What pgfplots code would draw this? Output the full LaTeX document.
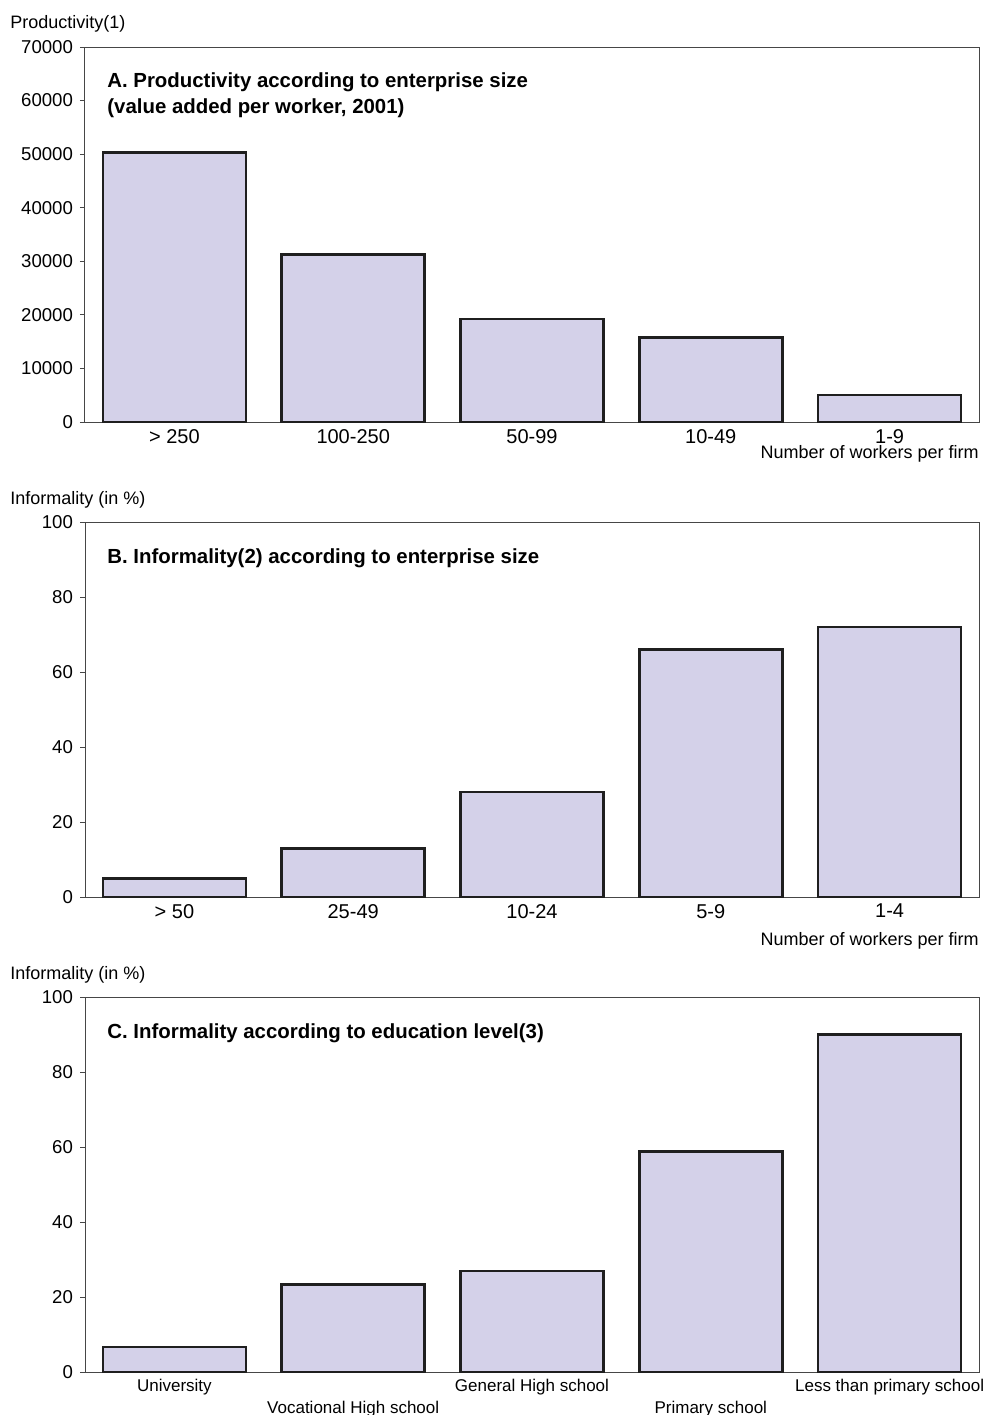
\documentclass[border=0pt]{standalone}
\usepackage{pgfplots}
\pgfplotsset{compat=1.18}
\usepackage{fontspec}
\setmainfont{Liberation Sans}
\definecolor{barfill}{RGB}{212,209,233}
\definecolor{axgray}{RGB}{70,70,70}
\pgfplotsset{
 panel/.style={
  scale only axis, width=447pt, height=187.5pt, anchor=south west,
  xmin=-0.5, xmax=4.5, ymin=0,
  ybar, bar width=0.8,
  axis line style={axgray, line width=0.5pt},
  tick style={axgray, line width=0.5pt},
  xtick pos=bottom, ytick pos=left,
  major tick length=2.5pt,
  xtick align=inside, ytick align=outside,
  yticklabel style={font=\fontsize{9.3}{10}\selectfont, text=black},
  xticklabel style={font=\fontsize{10}{11}\selectfont, text=black},
  scaled ticks=false,
  /pgf/number format/assume math mode=true,
  /pgf/number format/1000 sep={},
  clip=false,
 },
 bars/.style={fill=barfill, draw=black!88, line width=1.25pt}
}
\begin{document}
\begin{tikzpicture}
\path[use as bounding box] (0,0) rectangle (492pt,-707.5pt);
% Panel A
\begin{axis}[panel, at={(42.5pt,-211pt)}, ymax=70000,
  ytick={0,10000,...,70000},
  xtick={0,...,4}, xticklabels={> 250,100-250,50-99,10-49,1-9}]
\addplot[bars] coordinates {(0,50300) (1,31300) (2,19200) (3,15800) (4,5000)};
\end{axis}
% Panel B
\begin{axis}[panel, at={(42.5pt,-448.5pt)}, ymax=100,
  ytick={0,20,...,100},
  xtick={0,...,4}, xticklabels={> 50,25-49,10-24,5-9,1-4}]
\addplot[bars] coordinates {(0,5) (1,13) (2,28) (3,66) (4,72)};
\end{axis}
% Panel C
\begin{axis}[panel, at={(42.5pt,-686pt)}, ymax=100,
  ytick={0,20,...,100},
  xticklabel style={font=\fontsize{8.5}{10}\selectfont},
  xtick={0,2,4}, xticklabels={University,General High school,Less than primary school},
  extra x ticks={1,3}, extra x tick labels={Vocational High school,Primary school},
  extra x tick style={grid=none, xticklabel style={yshift=-11pt}}]
\addplot[bars] coordinates {(0,6.7) (1,23.3) (2,27) (3,58.8) (4,90)};
\end{axis}
\begin{scope}[every node/.style={font=\fontsize{9}{10}\selectfont, inner sep=0pt}]
\node[anchor=base west] at (5pt,-14.25pt) {Productivity(1)};
\node[anchor=base west] at (5pt,-252.25pt) {Informality (in \%)};
\node[anchor=base west] at (5pt,-489.75pt) {Informality (in \%)};
\node[anchor=base east] at (489.5pt,-229.25pt) {Number of workers per firm};
\node[anchor=base east] at (489.5pt,-472.75pt) {Number of workers per firm};
\node[anchor=base west, font=\fontsize{10.2}{11}\selectfont\bfseries] at (53.5pt,-43.5pt) {A. Productivity according to enterprise size};
\node[anchor=base west, font=\fontsize{10.2}{11}\selectfont\bfseries] at (53.5pt,-56.5pt) {(value added per worker, 2001)};
\node[anchor=base west, font=\fontsize{10.2}{11}\selectfont\bfseries] at (53.5pt,-281.5pt) {B. Informality(2) according to enterprise size};
\node[anchor=base west, font=\fontsize{10.2}{11}\selectfont\bfseries] at (53.5pt,-519pt) {C. Informality according to education level(3)};
\end{scope}
\end{tikzpicture}
\end{document}
